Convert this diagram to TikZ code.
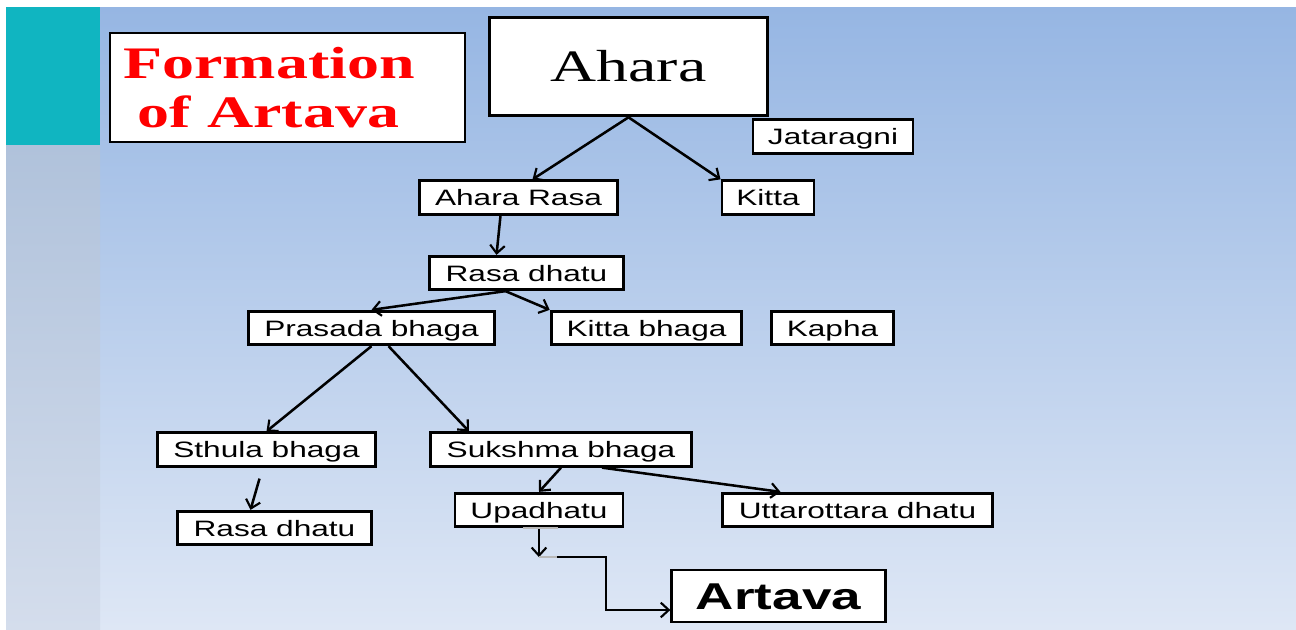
\documentclass[tikz,border=0pt]{standalone}
\usepackage{fontspec}
\usepackage{tikz}
\usetikzlibrary{calc,arrows.meta}

% wide slide fonts
\newfontfamily\slidesans[FakeStretch=1.42]{Liberation Sans}
\newfontfamily\slideserif[FakeStretch=1.42]{Liberation Serif}

\definecolor{slidetop}{RGB}{150,182,227}
\definecolor{slidebottom}{RGB}{222,231,245}
\definecolor{stripteal}{RGB}{16,181,193}
\definecolor{striptop}{RGB}{176,194,219}
\definecolor{stripbottom}{RGB}{212,221,236}

\tikzset{
  >={Straight Barb[length=6pt,width=11pt,line width=1.6pt]},
  box/.style={draw=black, fill=white, line width=2.2pt, inner sep=0pt,
    minimum height=25pt, text height=12pt, text depth=0pt,
    font=\slidesans\fontsize{16.7}{20}\selectfont},
  link/.style={->, line width=1.9pt},
}

\begin{document}
\begin{tikzpicture}[x=0.75pt,y=-0.75pt]

% Slide background
\fill[white] (0,0) rectangle (1296,629);
\shade[top color=slidetop, bottom color=slidebottom] (6,7) rectangle (1296,629);
\fill[stripteal] (6,7) rectangle (100,145);
\shade[top color=striptop, bottom color=stripbottom] (6,145) rectangle (100,629);

% Title
\draw[line width=2.2pt, fill=white] (110,33) rectangle (465,142);
\node[anchor=base, text=red, font=\slideserif\bfseries\fontsize{33.8}{40}\selectfont] (titleA) at (269,78) {Formation};
\node[anchor=base, text=red, font=\slideserif\bfseries\fontsize{33.8}{40}\selectfont] (titleB) at (268.5,127) {of Artava};

% Boxes
\node[box, minimum width=209pt, minimum height=74pt, text height=22pt,
  font=\slideserif\fontsize{33.7}{40}\selectfont] (ahara) at (628.5,66.5) {Ahara};
\node[box, minimum width=120pt] (jataragni) at (833,136.5) {Jataragni};
\node[box, minimum width=149pt] (aharaRasa) at (518.5,197.5) {Ahara Rasa};
\node[box, minimum width=69pt] (kitta) at (768,197.5) {Kitta};
\node[box, minimum width=145pt] (rasaDhatu) at (526.5,273) {Rasa dhatu};
\node[box, minimum width=185pt] (prasada) at (371.5,328) {Prasada bhaga};
\node[box, minimum width=143pt] (kittaBhaga) at (646.5,328) {Kitta bhaga};
\node[box, minimum width=91pt] (kapha) at (832.5,328) {Kapha};
\node[box, minimum width=164pt] (sthula) at (266.5,449.5) {Sthula bhaga};
\node[box, minimum width=196pt] (sukshma) at (561,449.5) {Sukshma bhaga};
\node[box, minimum width=145pt] (rasaDhatuB) at (274.5,528) {Rasa dhatu};
\node[box, minimum width=126pt] (upadhatu) at (539,510) {Upadhatu};
\node[box, minimum width=203pt] (uttarottara) at (857.5,510) {Uttarottara dhatu};
\node[box, minimum width=160pt, minimum height=39pt, text height=20pt,
  font=\slidesans\bfseries\fontsize{28}{32}\selectfont] (artava) at (778.5,596) {Artava};

% Arrows
\draw[link] (ahara.south) -- ($(aharaRasa.north)+(14,0)$);
\draw[link] (ahara.south) -- (kitta.north west);
\draw[link] ($(aharaRasa.south)+(-18,0)$) -- ($(rasaDhatu.north)+(-30,0)$);
\draw[link] ($(rasaDhatu.south)+(-21,0)$) -- (prasada.north);
\draw[link] ($(rasaDhatu.south)+(-21,0)$) -- (kittaBhaga.north west);
\draw[link] (prasada.south) -- (sthula.north);
\draw[link] ($(prasada.south)+(17,0)$) -- ($(sukshma.north)+(-92,0)$);
\draw[link] ($(sthula.south)+(-7,11)$) -- ($(rasaDhatuB.north)+(-24,0)$);
\draw[link] (sukshma.south) -- (upadhatu.north);
\draw[link] ($(sukshma.south)+(41,0)$) -- ($(uttarottara.north)+(-77,0)$);

% Elbow to Artava
\draw[link] (upadhatu.south) -- ++(0,29) coordinate (bend);
\draw[link] (bend) -- ++(67,0) |- ($(artava.west)+(0,14)$);
\draw[gray!55, line width=1.5pt] ($(upadhatu.south)+(-16,0)$) -- ++(35,0);
\draw[gray!55, line width=1.5pt] (bend) -- ++(18,0);
\end{tikzpicture}
\end{document}
